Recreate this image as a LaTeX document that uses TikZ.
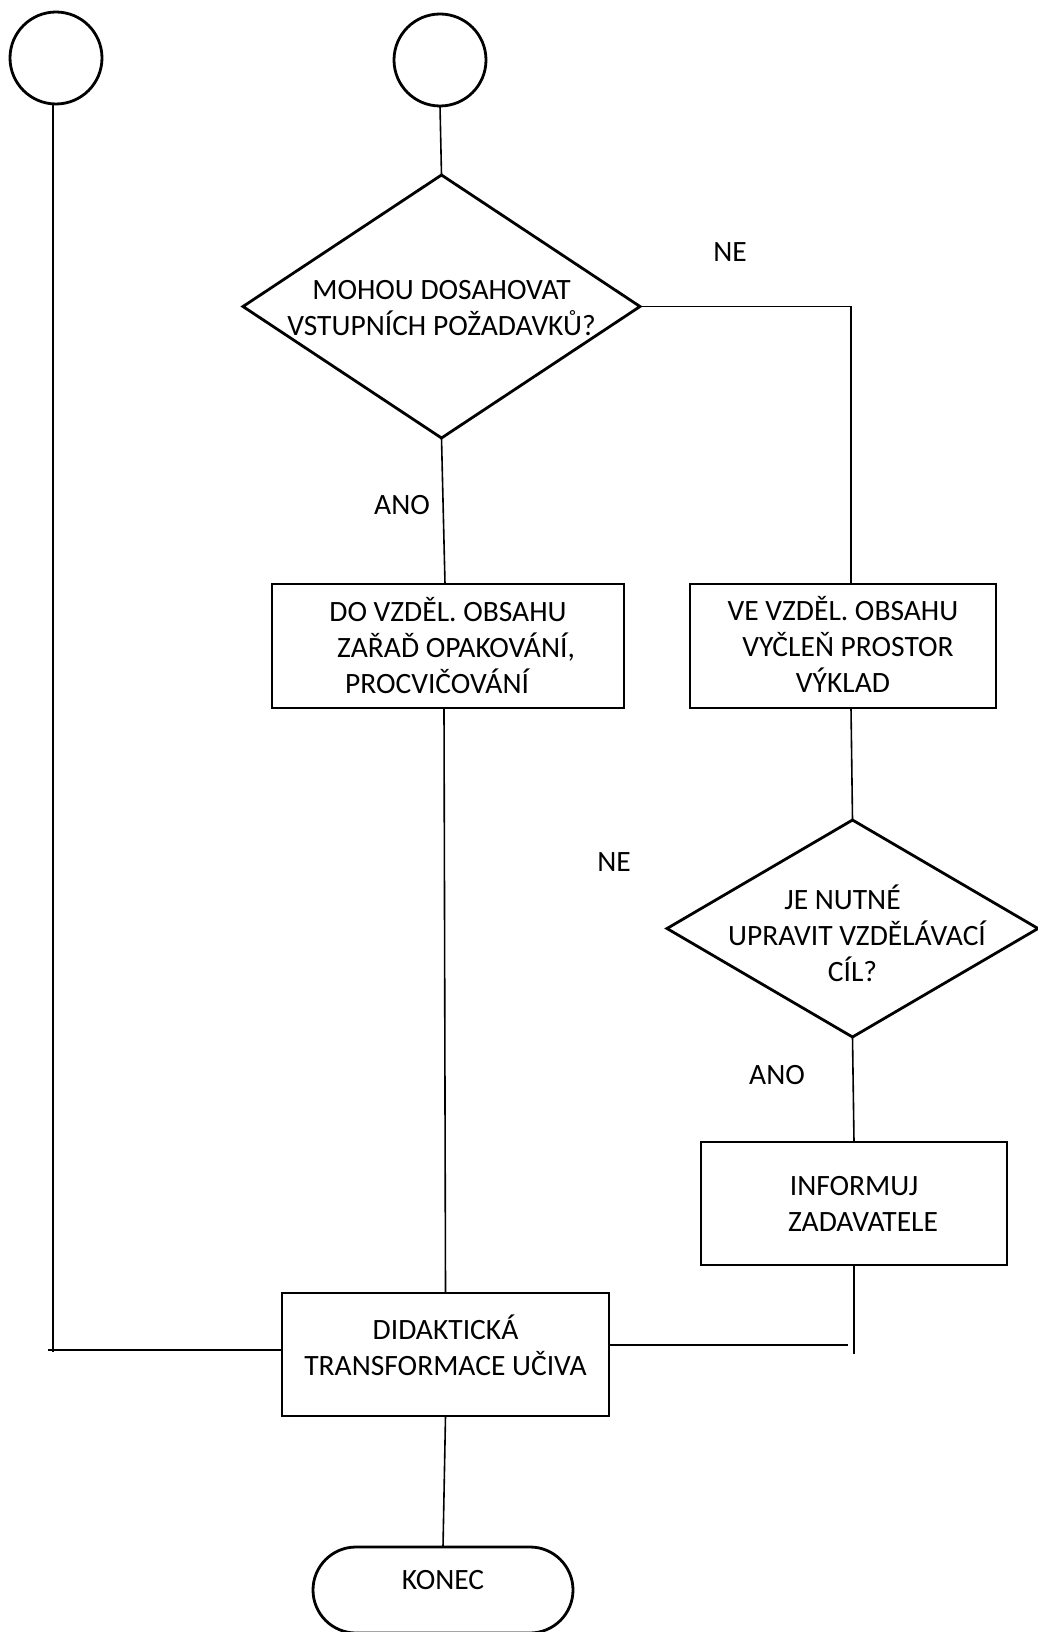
\documentclass[tikz,border=0pt]{standalone}
\usepackage{fontspec}
\setmainfont{Carlito}
\usetikzlibrary{shapes.geometric}
\newcommand{\zt}[2]{\makebox[0pt]{\raisebox{#1}[0pt][0pt]{\begin{tabular}{@{}c@{}}#2\end{tabular}}}}
\begin{document}
\begin{tikzpicture}[x=1pt,y=-1pt,
  every node/.style={font=\fontsize{29.5}{36}\selectfont, outer sep=0pt, inner sep=0pt},
  shapeline/.style={draw=black, line width=2.8pt},
  conn/.style={draw=black, line width=1.6pt},
  procbox/.style={shapeline, rectangle},
  decision/.style={shapeline, diamond},
  circ/.style={shapeline, circle, minimum size=92pt},
  term/.style={shapeline, rectangle, rounded corners=43pt, minimum width=260pt, minimum height=86pt},
  lbl/.style={anchor=center}
]
\useasboundingbox (0,0) rectangle (1038,1632);

% terminals
\node[circ] (c1) at (56,58) {};
\node[circ] (c2) at (440,60) {};

% decisions
\node[decision, minimum width=397pt, minimum height=263pt] (d1) at (441.5,306.5)
  {\zt{-9.6pt}{MOHOU DOSAHOVAT\\VSTUPNÍCH POŽADAVKŮ?}};
\node[decision, minimum width=371pt, minimum height=217pt] (d2) at (852.5,928.5)
  {\zt{-16.2pt}{JE NUTNÉ\hspace*{20pt}\\\hspace*{9pt}UPRAVIT VZDĚLÁVACÍ\\CÍL?}};

% process boxes
\node[procbox, minimum width=352pt, minimum height=124pt] (b1) at (448,646)
  {\zt{-10.6pt}{DO VZDĚL. OBSAHU\\\hspace*{16pt}ZAŘAĎ OPAKOVÁNÍ,\\PROCVIČOVÁNÍ\hspace*{22pt}}};
\node[procbox, minimum width=306pt, minimum height=124pt] (b2) at (843,646)
  {\zt{-9.6pt}{VE VZDĚL. OBSAHU\\\hspace*{10pt}VYČLEŇ PROSTOR\\VÝKLAD}};
\node[procbox, minimum width=306pt, minimum height=123pt] (b3) at (854,1203.5)
  {\zt{-8.6pt}{INFORMUJ\\\hspace*{18pt}ZADAVATELE}};
\node[procbox, minimum width=327pt, minimum height=123pt] (didak) at (445.5,1354.5)
  {\zt{-1.6pt}{DIDAKTICKÁ\\TRANSFORMACE UČIVA}};
\node[term] (konec) at (443,1590) {\zt{1.9pt}{KONEC}};

% labels
\node[lbl] (ne1) at (730,252) {NE};
\node[lbl] (ano1) at (402,505) {ANO};
\node[lbl] (ne2) at (614,862) {NE};
\node[lbl] (ano2) at (777,1075) {ANO};

% connectors
\draw[conn] (c2.south) -- (d1.north);
\draw[conn] (d1.east) -| ([xshift=8pt]b2.north);
\draw[conn] (d1.south) -- ([xshift=-3pt]b1.north);
\draw[conn] ([xshift=-4pt]b1.south) -- (didak.north);
\draw[conn] ([xshift=8pt]b2.south) -- (d2.north);
\draw[conn] (d2.south) -- (b3.north);
\draw[conn] (b3.south) -- ++(0,89) coordinate (rend);
\draw[conn] ([yshift=9.5pt]didak.east) -- ++(239,0) coordinate (rjoin);
\draw[conn] ([xshift=-3pt]c1.south) -- ++(0,1248) coordinate (lend);
\draw[conn] ([yshift=4.5pt]didak.west) -- ++(-234,0) coordinate (ljoin);
\draw[conn] (didak.south) -- (konec.north);
\end{tikzpicture}
\end{document}
